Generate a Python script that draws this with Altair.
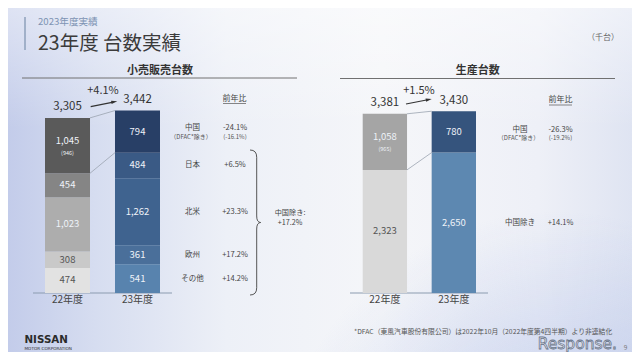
import altair as alt
import pandas as pd

FONT = "Noto Sans CJK JP"

# ---------------- data ----------------
years = ["22年度", "23年度"]

retail_regions = ["その他", "欧州", "北米", "日本", "中国"]      # bottom -> top
retail_fy22 = [474, 308, 1023, 454, 1045]
retail_fy23 = [541, 361, 1262, 484, 794]
retail_totals = [3305, 3442]
retail_yoy = ["+14.2%", "+17.2%", "+23.3%", "+6.5%", "-24.1%"]
retail_china_ex_dfac = "(946)"
retail_china_yoy_ex_dfac = "(-16.1%)"
retail_growth = "+4.1%"
retail_ex_china_label = "中国除き:"
retail_ex_china_yoy = "+17.2%"

prod_regions = ["中国除き", "中国"]                               # bottom -> top
prod_fy22 = [2323, 1058]
prod_fy23 = [2650, 780]
prod_totals = [3381, 3430]
prod_yoy = ["+14.1%", "-26.3%"]
prod_china_ex_dfac = "(965)"
prod_china_yoy_ex_dfac = "(-19.2%)"
prod_growth = "+1.5%"

dfac_note = "（DFAC*除き）"
footnote = "*DFAC（東風汽車股份有限公司）は2022年10月（2022年度第4四半期）より非連結化"

# ---------------- styles ----------------
retail_palette = {"22年度": ["#e2e2e2", "#c9c9c9", "#adadad", "#858585", "#5a5a5a"],
                  "23年度": ["#5883ae", "#4a6f9a", "#3f638f", "#3a5a85", "#283f66"]}
prod_palette = {"22年度": ["#d9d9d9", "#a5a5a5"],
                "23年度": ["#5d88b1", "#35547d"]}


def build(prefix, regions, v22, v23, yoy, china_sub):
    rows = []
    for yr, vals in zip(years, (v22, v23)):
        cum = 0
        for i, (reg, v) in enumerate(zip(regions, vals)):
            rows.append(dict(key=f"{prefix}|{yr}|{reg}", year=yr, region=reg, value=v,
                             y0=cum, y1=cum + v, mid=cum + v / 2, label=f"{v:,}",
                             sub=china_sub if (yr == years[0] and reg == "中国") else "",
                             yoy=yoy[i] if yr == years[1] else ""))
            cum += v
    return pd.DataFrame(rows)


retail_df = build("R", retail_regions, retail_fy22, retail_fy23, retail_yoy, retail_china_ex_dfac)
prod_df = build("P", prod_regions, prod_fy22, prod_fy23, prod_yoy, prod_china_ex_dfac)

color_domain = list(retail_df["key"]) + list(prod_df["key"])
color_range = retail_palette[years[0]] + retail_palette[years[1]] + prod_palette[years[0]] + prod_palette[years[1]]
CS = alt.Scale(domain=color_domain, range=color_range)
dark_text_keys = ["R|22年度|その他", "R|22年度|欧州", "P|22年度|中国除き"]

YS = alt.Scale(domain=[0, 5000], range=[285, 20])
XL = alt.Scale(domain=years, range=[37, 152], paddingInner=0.357, paddingOuter=0)
XR = alt.Scale(domain=years, range=[354.7, 468], paddingInner=0.357, paddingOuter=0)

ONE = pd.DataFrame({"k": [0]})


def label(txt, x, y, size=9, color="#444444", weight="normal", align="center", font=FONT, **kw):
    return alt.Chart(ONE).mark_text(text=txt, fontSize=size, color=color, fontWeight=weight,
                                    align=align, baseline="middle", font=font, **kw).encode(
        x=alt.value(x), y=alt.value(y))


def rule(x1, y1, x2, y2, color="#666666", width=1.0):
    return alt.Chart(ONE).mark_rule(color=color, strokeWidth=width).encode(
        x=alt.value(x1), y=alt.value(y1), x2=alt.value(x2), y2=alt.value(y2))


def arrowhead(x, y, angle):
    return alt.Chart(ONE).mark_point(shape="M-1,-0.55 L1,0 L-1,0.55 Z", size=36, filled=True,
                                     color="#333333", opacity=1, angle=angle).encode(
        x=alt.value(x), y=alt.value(y))


def panel(df, xscale, totals, cx1, cx2):
    X = alt.X("year:N", scale=xscale, axis=None)
    Ymid = alt.Y("mid:Q", scale=YS, axis=None)
    base = alt.Chart(df)
    tcol = alt.condition(alt.FieldOneOfPredicate(field="key", oneOf=dark_text_keys),
                         alt.value("#555555"), alt.value("#eef2f8"))
    bars = base.mark_bar(strokeWidth=0).encode(
        x=X, y=alt.Y("y0:Q", scale=YS, axis=None), y2="y1:Q",
        color=alt.Color("key:N", scale=CS, legend=None))
    lab_plain = base.transform_filter("datum.sub == ''").mark_text(font=FONT, fontSize=9.5).encode(
        x=X, y=Ymid, text="label:N", color=tcol)
    lab_main = base.transform_filter("datum.sub != ''").mark_text(font=FONT, fontSize=9.5, dy=-4.5).encode(
        x=X, y=Ymid, text="label:N", color=tcol)
    lab_sub = base.transform_filter("datum.sub != ''").mark_text(font=FONT, fontSize=5.5, dy=7.5).encode(
        x=X, y=Ymid, text="sub:N", color=tcol)
    tot_df = pd.DataFrame({"year": years, "total": totals, "label": [f"{t:,}" for t in totals]})
    tots = alt.Chart(tot_df).mark_text(font=FONT, fontSize=11.5, dy=-10.5, color="#333333").encode(
        x=X, y=alt.Y("total:Q", scale=YS, axis=None), text="label:N")
    xl = alt.Chart(tot_df).mark_text(font=FONT, fontSize=10, color="#444444").encode(
        x=X, y=alt.value(292), text="year:N")
    s22 = df[df.year == years[0]]
    s23 = df[df.year == years[1]]
    top22, top23 = s22.y1.max(), s23.y1.max()
    ch22 = s22[s22.region == "中国"].y0.iloc[0]
    ch23 = s23[s23.region == "中国"].y0.iloc[0]
    conn_df = pd.DataFrame({"a": [top22, ch22], "b": [top23, ch23]})
    conn = alt.Chart(conn_df).mark_rule(color="#9aa3b0", strokeWidth=0.8).encode(
        x=alt.value(cx1), x2=alt.value(cx2),
        y=alt.Y("a:Q", scale=YS, axis=None), y2="b:Q")
    return alt.layer(bars, conn, lab_plain, lab_main, lab_sub, tots, xl)


def yoy_layers(df, name_x, pct_x, name_dy, sub_dy, pct_sub):
    d = df[df.year == years[1]]
    base = alt.Chart(d)
    Y = alt.Y("mid:Q", scale=YS, axis=None)
    ch = "datum.region == '中国'"
    nch = "datum.region != '中国'"
    kw = dict(font=FONT, fontSize=7.5, color="#444444")
    skw = dict(font=FONT, fontSize=6, color="#555555")
    return [
        base.transform_filter(nch).mark_text(**kw).encode(x=alt.value(name_x), y=Y, text="region:N"),
        base.transform_filter(nch).mark_text(**kw).encode(x=alt.value(pct_x), y=Y, text="yoy:N"),
        base.transform_filter(ch).mark_text(dy=name_dy, **kw).encode(x=alt.value(name_x), y=Y, text="region:N"),
        base.transform_filter(ch).mark_text(dy=name_dy, **kw).encode(x=alt.value(pct_x), y=Y, text="yoy:N"),
        base.transform_filter(ch).mark_text(dy=sub_dy, text=dfac_note, **skw).encode(x=alt.value(name_x - 1.5), y=Y),
        base.transform_filter(ch).mark_text(dy=sub_dy, text=pct_sub, **skw).encode(x=alt.value(pct_x), y=Y),
    ]


# ---------------- background ----------------
bg = alt.Chart(ONE).mark_rect(fill=alt.LinearGradient(
    gradient="linear", x1=0, y1=0, x2=1, y2=0,
    stops=[alt.GradientStop(color="#c3ccea", offset=0),
           alt.GradientStop(color="#d6ddf0", offset=0.14),
           alt.GradientStop(color="#edf0f7", offset=0.35),
           alt.GradientStop(color="#f5f6f9", offset=0.6),
           alt.GradientStop(color="#eef0f7", offset=0.85),
           alt.GradientStop(color="#dfe4f2", offset=1)])).encode(
    x=alt.value(0), x2=alt.value(624), y=alt.value(0), y2=alt.value(344))
bg2 = alt.Chart(ONE).mark_rect(fill=alt.LinearGradient(
    gradient="linear", x1=0, y1=0, x2=0, y2=1,
    stops=[alt.GradientStop(color="rgba(255,255,255,0.45)", offset=0),
           alt.GradientStop(color="rgba(255,255,255,0)", offset=0.35)])).encode(
    x=alt.value(0), x2=alt.value(624), y=alt.value(0), y2=alt.value(344))
bg3 = alt.Chart(ONE).mark_rect(fill=alt.RadialGradient(
    gradient="radial", x1=0.88, y1=1.0, x2=0.88, y2=1.0, r1=0, r2=0.45,
    stops=[alt.GradientStop(color="rgba(150,170,225,0.55)", offset=0),
           alt.GradientStop(color="rgba(150,170,225,0)", offset=1)])).encode(
    x=alt.value(0), x2=alt.value(624), y=alt.value(0), y2=alt.value(344))

decor = [
    rule(17, 9, 17, 42, color="#8ea0bb", width=1.5),
    label("2023年度実績", 30, 14, size=9.6, color="#7d93b3", align="left"),
    label("23年度 台数実績", 30, 36.2, size=19.5, color="#3b3b3b", align="left"),
    label("（千台）", 595, 30, size=8, color="#666666"),
    label("小売販売台数", 152, 63, size=11, color="#333333", weight="bold"),
    rule(14, 70, 289, 70, color="#707070", width=1),
    label("生産台数", 469.7, 63, size=11, color="#333333", weight="bold"),
    rule(332, 70.5, 607, 70.5, color="#707070", width=1),
    label("前年比", 226.5, 91, size=8, color="#444444"),
    rule(215, 95.5, 238, 95.5, color="#555555", width=0.7),
    label("前年比", 552.5, 92.3, size=8, color="#444444"),
    rule(541, 97, 564, 97, color="#555555", width=0.7),
    rule(25, 285, 164, 285, color="#8c9bb0", width=1.2),
    rule(342, 285, 480, 285, color="#8c9bb0", width=1.2),
    # growth arrows
    rule(82.7, 98.7, 104, 94.3, color="#333333", width=1.2),
    arrowhead(106.3, 93.8, 350),
    label(retail_growth, 95, 82.7, size=11, color="#333333"),
    rule(398, 96, 418.5, 92, color="#333333", width=1.2),
    arrowhead(420.8, 91.5, 349),
    label(prod_growth, 411, 82.7, size=11, color="#333333"),
    # brace
    alt.Chart(ONE).mark_point(
        shape="M-0.092,-1 Q0,-1 0,-0.9 L0,-0.09 Q0,0 0.055,0 Q0,0 0,0.09 L0,0.9 Q0,1 -0.092,1",
        size=21025, filled=False, stroke="#555555", strokeWidth=1, opacity=1).encode(
        x=alt.value(248.7), y=alt.value(214.5)),
    label(retail_ex_china_label, 282, 204.8, size=7.2, color="#444444"),
    label(retail_ex_china_yoy, 282, 214.8, size=7.2, color="#444444"),
    # footer
    label("NISSAN", 16.5, 332.3, size=10.3, color="#2b2b2b", weight="bold", align="left", font="DejaVu Sans"),
    label("MOTOR CORPORATION", 16.5, 340.6, size=4.2, color="#333333", align="left", font="DejaVu Sans"),
    label(footnote, 346, 323.5, size=6.8, color="#555555", align="left"),
    label("Response.", 609, 335.8, size=15.5, color="#ffffff", align="right", font="DejaVu Sans",
          stroke="#5d6b80", strokeWidth=0.8, opacity=0.9),
    label("9", 617.5, 340, size=6.5, color="#777777"),
]

left = panel(retail_df, XL, retail_totals, 82, 107)
right = panel(prod_df, XR, prod_totals, 399, 423.7)
ann = yoy_layers(retail_df, 184.5, 227, -3.5, 5.5, retail_china_yoy_ex_dfac) + \
      yoy_layers(prod_df, 512, 552.5, -2, 6, prod_china_yoy_ex_dfac)

chart = alt.layer(bg, bg2, bg3, *decor, left, right, *ann).resolve_scale(x="independent").properties(
    width=624, height=344, autosize=alt.AutoSizeParams(type="none"), padding=0
).configure_view(stroke=None)

chart.save("out.html", embed_options={"renderer": "svg", "actions": False})
